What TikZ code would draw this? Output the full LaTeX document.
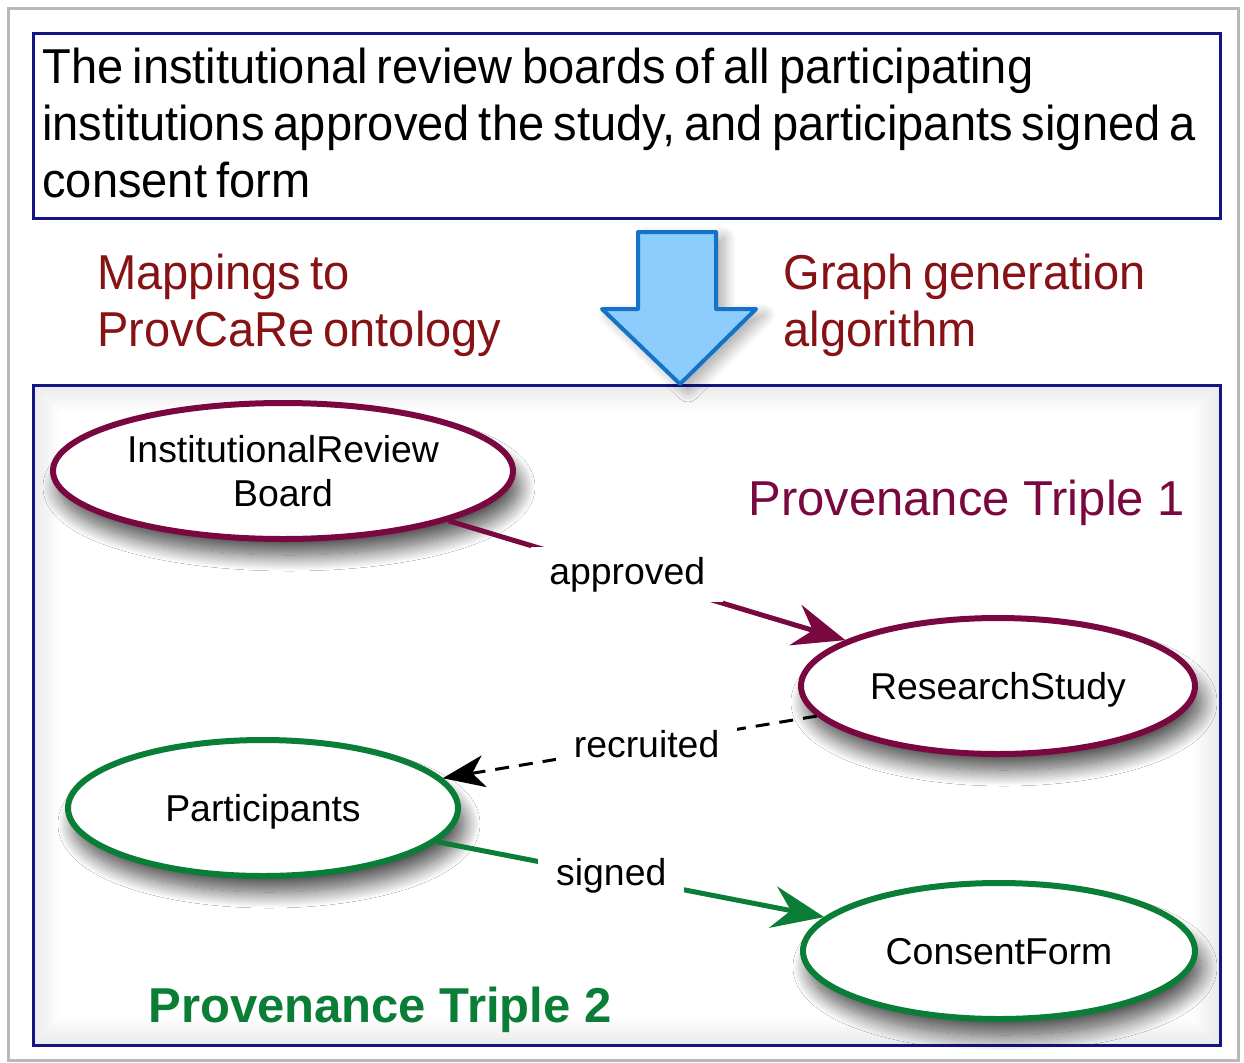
\documentclass[tikz,border=0pt]{standalone}
\usepackage{fontspec}
\setmainfont{Liberation Sans}
\newfontfamily\tightsans[WordSpace=0.7,FakeStretch=0.96]{Liberation Sans}
\usetikzlibrary{shapes.geometric,arrows.meta,shadows.blur}

\definecolor{frameblue}{RGB}{20,20,130}
\definecolor{tripleone}{RGB}{122,8,64}
\definecolor{tripletwo}{RGB}{10,125,55}
\definecolor{mapred}{RGB}{135,18,22}
\definecolor{arrowfill}{RGB}{140,205,252}
\definecolor{arrowline}{RGB}{20,115,200}

\begin{document}
\begin{tikzpicture}[x=0.5pt,y=-0.5pt,
  bigtext/.style={inner sep=0pt, align=left, font=\tightsans\fontsize{24.5}{28.5}\selectfont},
  concept/.style={ellipse, draw, line width=3pt, fill=white, inner sep=0pt,
    minimum height=68pt, align=center, font=\fontsize{18.7}{22}\selectfont,
    blur shadow={shadow xshift=3pt, shadow yshift=-8pt, shadow blur radius=8pt,
      shadow opacity=70, shadow blur steps=24}},
  oneline/.style={text height=13.4pt, text depth=0pt},
  edgelabel/.style={fill=white, inner xsep=9pt, inner ysep=5pt, text=black,
    font=\fontsize{18.7}{22}\selectfont},
  relation/.style={line width=2.5pt, -{Stealth[length=26pt,width=21pt,inset=9pt]}}
]
\useasboundingbox (0,0) rectangle (1244,1062);

% outer frame
\draw[black!28, line width=1.5pt] (8,8) rectangle (1238,1060);

% statement box
\draw[frameblue, line width=1.5pt, fill=white] (33,33) rectangle (1220,218);
\node[bigtext, anchor=north west] (statement) at (42,48)
  {The institutional review boards of all participating\\
   institutions approved the study, and participants signed a\\
   consent form};

% side captions of the transformation step
\node[bigtext, text=mapred, anchor=north west] (mapping) at (97,254)
  {Mappings to\\ProvCaRe ontology};
\node[bigtext, text=mapred, anchor=north west] (algorithm) at (783,254)
  {Graph generation\\algorithm};

% provenance graph panel with soft inner edge shading
\fill[white] (33,385) rectangle (1220,1045);
\foreach \d in {1,3,...,27}
  \draw[black, opacity={0.085*(1-\d/28)}, line width=1pt] (33+\d,385+\d) rectangle (1220-\d,1045-\d);
\draw[frameblue, line width=1.5pt] (33,385) rectangle (1220,1045);

% block arrow
\draw[fill=arrowfill, draw=arrowline, line width=2pt, line join=round,
      blur shadow={shadow xshift=4pt, shadow yshift=-3pt, shadow blur radius=6pt,
        shadow opacity=35, shadow blur steps=20}]
  (638,232) -- (716,232) -- (716,309) -- (756,309) -- (680,384) -- (602,309) -- (638,309) -- cycle;

% concepts
\node[concept, draw=tripleone, minimum width=230pt] (irb) at (283,471) {InstitutionalReview\\Board};
\node[concept, oneline, draw=tripleone, minimum width=197pt] (study) at (998,686) {ResearchStudy};
\node[concept, oneline, draw=tripletwo, minimum width=195pt] (participants) at (263,808) {Participants};
\node[concept, oneline, draw=tripletwo, minimum width=196pt] (consent) at (999,951) {ConsentForm};

% relations
\draw[relation, tripleone] (irb) -- node[edgelabel, pos=0.45] {approved} (study);
\draw[black, line width=1.5pt, dash pattern=on 7pt off 5pt,
      -{Stealth[length=21pt,width=16pt,inset=6pt]}]
  (study) -- node[edgelabel, pos=0.455] {recruited} (participants);
\draw[relation, tripletwo] (participants) -- node[edgelabel, pos=0.45] {signed} (consent);

% triple captions
\node[anchor=base west, inner sep=0pt, text=tripleone, font=\fontsize{24.5}{28.5}\selectfont]
  (tripleA) at (748,515) {Provenance Triple 1};
\node[anchor=base west, inner sep=0pt, text=tripletwo, font=\fontsize{24.5}{28.5}\selectfont\bfseries]
  (tripleB) at (148,1022) {Provenance Triple 2};
\end{tikzpicture}
\end{document}
